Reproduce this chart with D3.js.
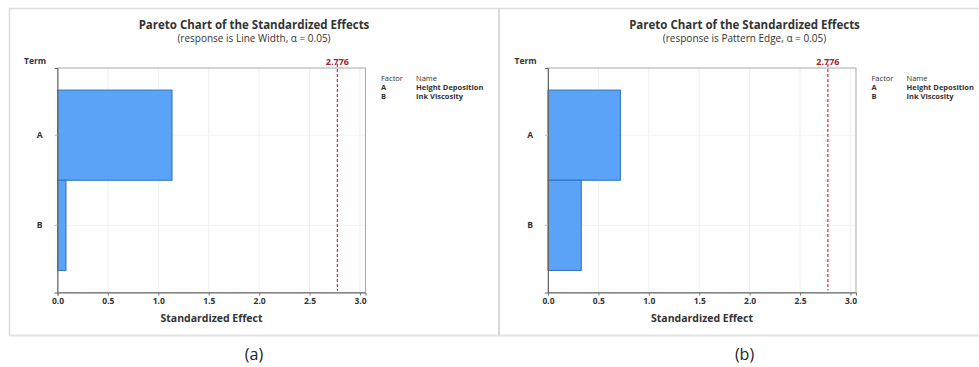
<!DOCTYPE html>
<html>
<head>
<meta charset="utf-8">
<script src="https://cdn.jsdelivr.net/npm/d3@7"></script>
<style>
  html, body { margin: 0; padding: 0; background: #fff; }
  svg { display: block; font-family: "Open Sans", "Noto Sans", sans-serif; }
</style>
</head>
<body>
<svg id="chart" width="979" height="367"></svg>
<script>
// Pareto charts of standardized effects for two responses
const terms = ["A", "B"];
const lineWidthEffects = [1.136, 0.084];
const patternEdgeEffects = [0.718, 0.33];
const criticalValue = 2.776;
const xTicks = [0, 0.5, 1.0, 1.5, 2.0, 2.5, 3.0];
const factorCodes = ["A", "B"];
const factorNames = ["Height Deposition", "Ink Viscosity"];
const responses = ["Line Width", "Pattern Edge"];
const panelLabels = ["(a)", "(b)"];
const panelEffects = [lineWidthEffects, patternEdgeEffects];

const svg = d3.select("#chart");

// panel frames
svg.append("line").attr("x1", 9).attr("x2", 979).attr("y1", 8.5).attr("y2", 8.5)
  .attr("stroke", "#dcdcdc").attr("stroke-width", 1.5);
svg.append("line").attr("x1", 9).attr("x2", 979).attr("y1", 335.5).attr("y2", 335.5)
  .attr("stroke", "#e4e4e4").attr("stroke-width", 2);
svg.append("line").attr("x1", 9.5).attr("x2", 9.5).attr("y1", 8).attr("y2", 336)
  .attr("stroke", "#dcdcdc").attr("stroke-width", 1.5);
svg.append("line").attr("x1", 499).attr("x2", 499).attr("y1", 8).attr("y2", 336)
  .attr("stroke", "#d8d8d8").attr("stroke-width", 2);

function drawPanel(offsetX, values, response, label) {
  const g = svg.append("g").attr("transform", `translate(${offsetX},0)`);
  const left = 57.5, right = 365.5, top = 68, bottom = 292.5;

  const x = d3.scaleLinear().domain([0, 3.055]).range([left, right]);
  const y = d3.scaleBand().domain(terms).range([top, bottom])
    .paddingInner(0).paddingOuter(0.245);

  // gridlines
  g.append("g").selectAll("line").data(xTicks.filter(d => d > 0)).join("line")
    .attr("x1", d => x(d)).attr("x2", d => x(d)).attr("y1", top).attr("y2", bottom)
    .attr("stroke", "#efefef").attr("stroke-width", 1);
  g.append("g").selectAll("line").data(terms).join("line")
    .attr("x1", left).attr("x2", right)
    .attr("y1", d => y(d) + y.bandwidth() / 2).attr("y2", d => y(d) + y.bandwidth() / 2)
    .attr("stroke", "#f2f2f2").attr("stroke-width", 1);

  // plot box
  g.append("rect").attr("x", left).attr("y", top)
    .attr("width", right - left).attr("height", bottom - top)
    .attr("fill", "none").attr("stroke", "#a8a8a8").attr("stroke-width", 1);

  // bars
  g.append("g").selectAll("rect").data(terms).join("rect")
    .attr("x", x(0)).attr("y", d => y(d))
    .attr("width", (d, i) => x(values[i]) - x(0))
    .attr("height", y.bandwidth())
    .attr("fill", "#5aa3f7").attr("stroke", "#2d6fc4").attr("stroke-width", 1);

  // critical value reference line
  g.append("line").attr("x1", x(criticalValue)).attr("x2", x(criticalValue))
    .attr("y1", top - 4).attr("y2", bottom - 2)
    .attr("stroke", "#c8323a").attr("stroke-width", 1.2).attr("stroke-dasharray", "3,2");
  g.append("text").attr("x", x(criticalValue)).attr("y", 65)
    .attr("text-anchor", "middle").attr("font-size", 9).attr("font-weight", 700)
    .attr("fill", "#a5202a").text(criticalValue.toFixed(3));

  // x axis
  const xAxis = d3.axisBottom(x).tickValues(xTicks).tickFormat(d3.format(".1f"))
    .tickSize(3).tickPadding(2);
  const ax = g.append("g").attr("transform", `translate(0,${bottom})`).call(xAxis);
  ax.select(".domain").attr("stroke", "#666");
  ax.selectAll(".tick line").attr("stroke", "#777");
  ax.selectAll(".tick text").attr("font-size", 8.5).attr("font-weight", 700)
    .attr("fill", "#333").attr("font-family", "'Open Sans', sans-serif");

  // y axis
  const yAxis = d3.axisLeft(y).tickSize(3).tickPadding(12);
  const ay = g.append("g").attr("transform", `translate(${left},0)`).call(yAxis);
  ay.select(".domain").attr("stroke", "#666");
  ay.selectAll(".tick line").attr("stroke", "#bbb");
  ay.selectAll(".tick text").attr("font-size", 8.5).attr("font-weight", 700)
    .attr("fill", "#333").attr("font-family", "'Open Sans', sans-serif");

  // titles
  g.append("text").attr("x", 254).attr("y", 29).attr("text-anchor", "middle")
    .attr("font-size", 11.5).attr("font-weight", 700).attr("fill", "#333")
    .text("Pareto Chart of the Standardized Effects");
  g.append("text").attr("x", 254).attr("y", 42).attr("text-anchor", "middle")
    .attr("font-size", 10).attr("fill", "#333")
    .text(`(response is ${response}, \u03b1 = 0.05)`);
  g.append("text").attr("x", 24).attr("y", 64)
    .attr("font-size", 8.5).attr("font-weight", 700).attr("fill", "#333").text("Term");
  g.append("text").attr("x", (left + right) / 2 + 0).attr("y", 322).attr("text-anchor", "middle")
    .attr("font-size", 10.5).attr("font-weight", 700).attr("fill", "#333")
    .text("Standardized Effect");

  // factor legend
  const lg = g.append("g").attr("font-size", 7.5).attr("fill", "#333");
  lg.append("text").attr("x", 381).attr("y", 81).text("Factor");
  lg.append("text").attr("x", 416).attr("y", 81).text("Name");
  factorCodes.forEach((c, i) => {
    lg.append("text").attr("x", 381).attr("y", 90 + i * 9).attr("font-weight", 700).text(c);
    lg.append("text").attr("x", 416).attr("y", 90 + i * 9).attr("font-weight", 700).text(factorNames[i]);
  });

  // panel label
  g.append("text").attr("x", 254).attr("y", 360).attr("text-anchor", "middle")
    .attr("font-size", 16).attr("fill", "#222").text(label);
}

drawPanel(0, panelEffects[0], responses[0], panelLabels[0]);
drawPanel(490.5, panelEffects[1], responses[1], panelLabels[1]);
</script>
</body>
</html>
